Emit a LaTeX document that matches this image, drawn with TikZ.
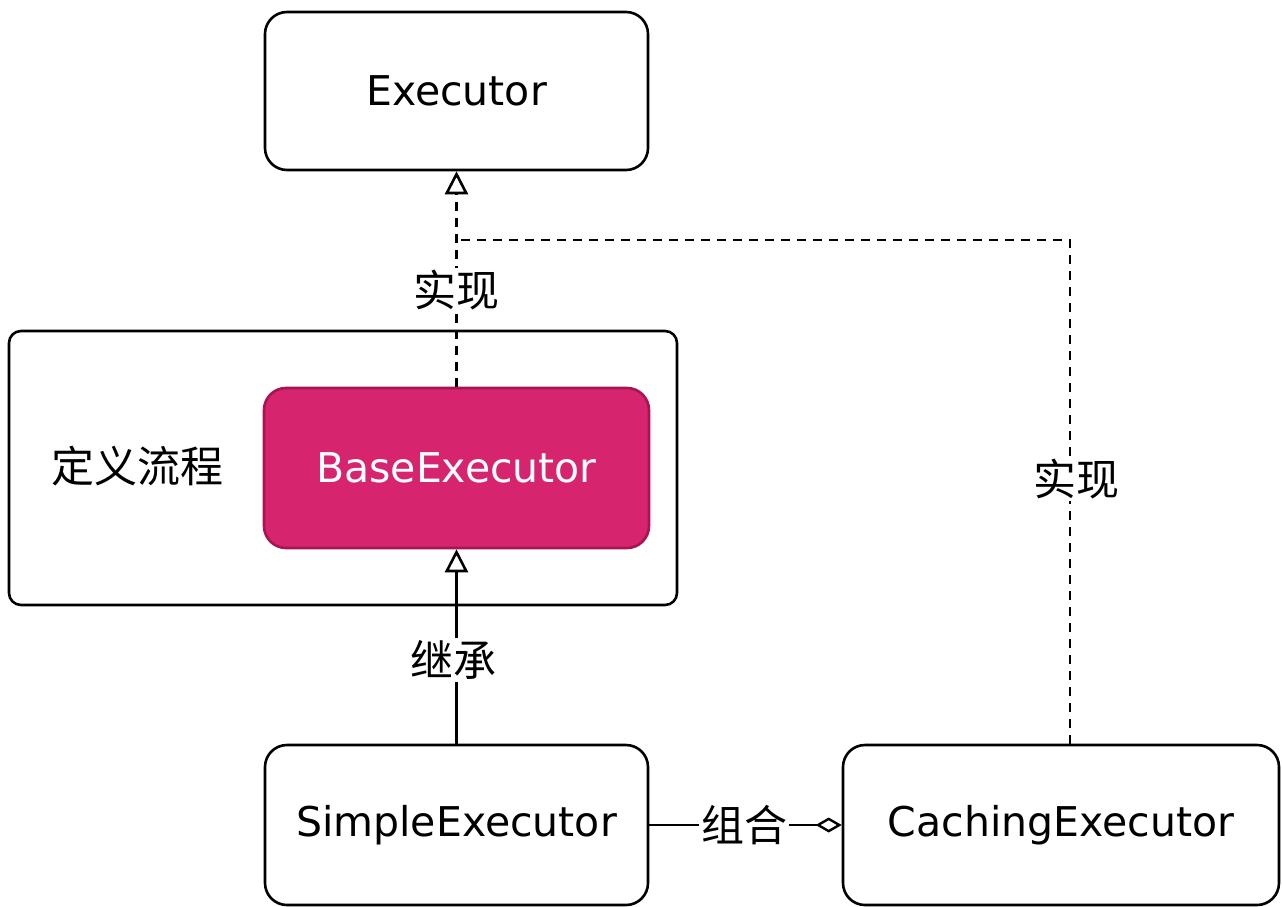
\documentclass[tikz,border=0pt]{standalone}
\usepackage{fontspec}
\setmainfont{DejaVu Sans}
\newfontfamily\cjk{Noto Sans CJK SC}
\usetikzlibrary{arrows.meta}
\definecolor{basefill}{HTML}{D6246E}
\definecolor{basedraw}{HTML}{A8144F}
\begin{document}
\begin{tikzpicture}[x=1pt,y=-1pt,
  box/.style={draw=black,line width=2.6pt,rounded corners=22pt,fill=white},
  lat/.style={font=\fontsize{41}{48}\selectfont},
  cn/.style={font=\cjk\fontsize{43}{48}\selectfont},
  lbl/.style={cn,fill=white,inner sep=2pt},
  conn/.style={line width=2.2pt},
  dsh/.style={conn,dash pattern=on 9pt off 7pt},
  inh/.style={-{Triangle[open,length=23pt,width=23pt,line width=2.6pt]}},
  agg/.style={-{Diamond[open,length=26pt,width=15pt,line width=2.4pt]}}
]
\useasboundingbox (0,0) rectangle (1282,907);
\draw[line width=2.6pt,rounded corners=12pt] (9,331) rectangle (677,605);
\node[cn,anchor=center] (lab) at (137,466) {定义流程};

\node[box,minimum width=383pt,minimum height=158pt,inner sep=0pt,lat] (ex) at (456.5,91) {Executor};
\node[draw=basedraw,fill=basefill,line width=2.6pt,rounded corners=22pt,minimum width=385pt,minimum height=160pt,inner sep=0pt,lat,text=white] (base) at (456.5,468) {BaseExecutor};
\node[box,minimum width=383pt,minimum height=160pt,inner sep=0pt,lat] (simple) at (456.5,825) {SimpleExecutor};
\node[box,minimum width=436pt,minimum height=160pt,inner sep=0pt,lat] (cach) at (1061,825) {CachingExecutor};

\coordinate (j) at (456.5,240);
\coordinate (c1) at (1070,240);
\draw[dsh,inh] (base.north) -- (ex.south);
\draw[dsh] (cach.north -| c1) -- (c1) -- (j);
\node[lbl] (l1) at (456,290) {实现};
\node[lbl] (l2) at (1076,479) {实现};

\draw[conn,inh] (simple.north) -- (base.south);
\node[lbl] (l3) at (453,660) {继承};

\draw[conn,agg] (simple.east) -- (cach.west);
\node[lbl] (l4) at (744,825) {组合};
\end{tikzpicture}
\end{document}
